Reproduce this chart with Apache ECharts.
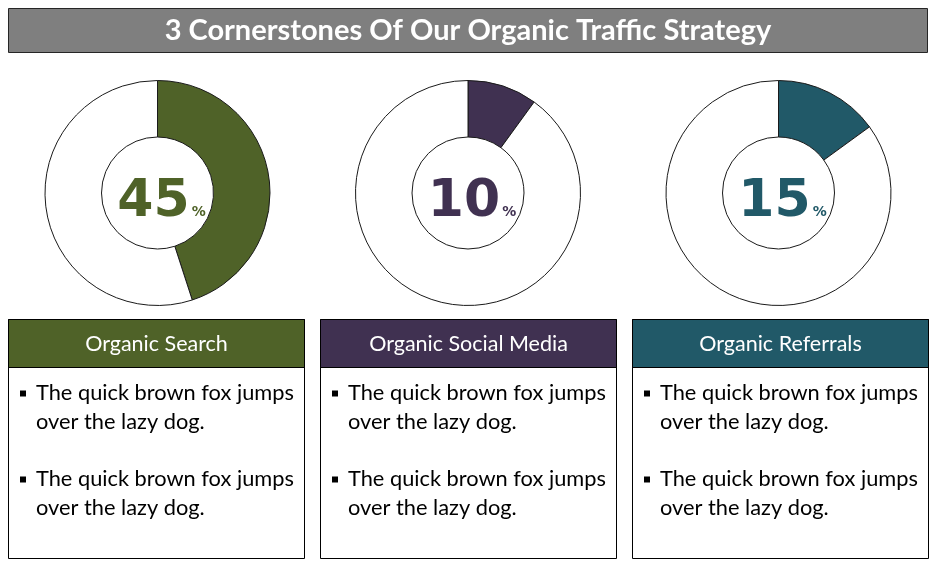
<!DOCTYPE html>
<html>
<head>
<meta charset="utf-8">
<script src="https://cdn.jsdelivr.net/npm/echarts@6/dist/echarts.min.js"></script>
<style>
  html, body { margin: 0; padding: 0; background: #fff; }
  #chart { width: 936px; height: 569px; }
</style>
</head>
<body>
<div id="chart"></div>
<script>
// chart data
const titleText = '3 Cornerstones Of Our Organic Traffic Strategy';
const categories = ['Organic Search', 'Organic Social Media', 'Organic Referrals'];
const percents = [45, 10, 15];
const colors = ['#4f6228', '#403151', '#215968'];
const bullets = [
  'The quick brown fox jumps\nover the lazy dog.',
  'The quick brown fox jumps\nover the lazy dog.'
];

const myChart = echarts.init(document.getElementById('chart'));

const boxLeft = [8, 320, 632];
const boxWidth = 296;
const pieCenterX = [157.5, 468, 778.5];

const series = [];
const graphic = [];

// title bar
graphic.push({
  type: 'rect',
  shape: { x: 8.5, y: 8.5, width: 919, height: 44 },
  style: { fill: '#7f7f7f', stroke: '#262626', lineWidth: 1 }
});
graphic.push({
  type: 'text',
  x: 468, y: 31,
  style: {
    text: titleText, fill: '#fff', font: 'bold 29px Lato',
    align: 'center', verticalAlign: 'middle'
  }
});

categories.forEach(function (name, i) {
  const pct = percents[i];
  series.push({
    type: 'pie',
    center: [pieCenterX[i], 193],
    radius: [56, 112.5],
    startAngle: 90,
    clockwise: true,
    silent: true,
    animation: false,
    emphasis: { disabled: true },
    itemStyle: { borderColor: '#1a1a1a', borderWidth: 1 },
    labelLine: { show: false },
    data: [
      {
        value: pct, name: name,
        itemStyle: { color: colors[i] },
        label: {
          show: true,
          position: 'center',
          offset: [4, 9],
          formatter: '{n|' + pct + '}{p|%}',
          rich: {
            n: { fontSize: 52, fontWeight: 'bold', fontFamily: 'DejaVu Sans', color: colors[i], verticalAlign: 'bottom' },
            p: { fontSize: 14, fontWeight: 'bold', fontFamily: 'DejaVu Sans', color: colors[i], verticalAlign: 'bottom', padding: [0, 0, 9, 2] }
          }
        }
      },
      {
        value: 100 - pct, name: 'rest',
        itemStyle: { color: '#ffffff' },
        label: { show: false }
      }
    ]
  });

  const x0 = boxLeft[i];
  // box body
  graphic.push({
    type: 'rect',
    shape: { x: x0 + 0.5, y: 319.5, width: boxWidth, height: 239 },
    style: { fill: '#fff', stroke: '#000', lineWidth: 1 }
  });
  // header
  graphic.push({
    type: 'rect',
    shape: { x: x0 + 0.5, y: 319.5, width: boxWidth, height: 48 },
    style: { fill: colors[i], stroke: '#000', lineWidth: 1 }
  });
  graphic.push({
    type: 'text',
    x: x0 + boxWidth / 2 + 0.5, y: 344,
    style: {
      text: name, fill: '#fff', font: '21.5px Lato',
      align: 'center', verticalAlign: 'middle'
    }
  });
  bullets.forEach(function (b, j) {
    const top = 378.5 + j * 86;
    graphic.push({
      type: 'rect',
      shape: { x: x0 + 12, y: top + 12, width: 6, height: 6 },
      style: { fill: '#000' }
    });
    graphic.push({
      type: 'text',
      x: x0 + 28, y: top,
      style: {
        text: b, fill: '#000', font: '21.8px Lato',
        lineHeight: 29, align: 'left', verticalAlign: 'top'
      }
    });
  });
});

myChart.setOption({
  backgroundColor: '#fff',
  animation: false,
  series: series,
  graphic: graphic
});
</script>
</body>
</html>
